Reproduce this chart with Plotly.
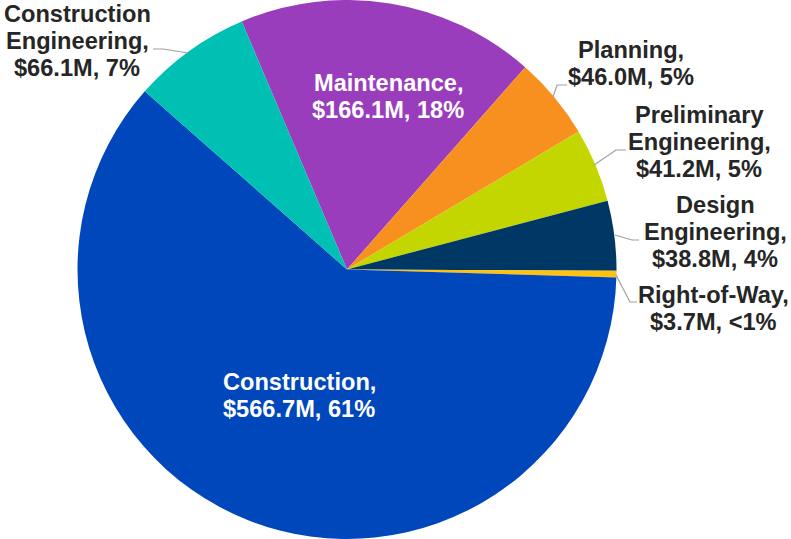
import plotly.graph_objects as go

# ---- data ----
categories = ["Maintenance", "Planning", "Preliminary Engineering", "Design Engineering",
              "Right-of-Way", "Construction", "Construction Engineering"]
values = [166.1, 46.0, 41.2, 38.8, 3.7, 566.7, 66.1]
pct_labels = ["18%", "5%", "5%", "4%", "<1%", "61%", "7%"]
label_lines = [
    ["Maintenance,"],
    ["Planning,"],
    ["Preliminary", "Engineering,"],
    ["Design", "Engineering,"],
    ["Right-of-Way,"],
    ["Construction,"],
    ["Construction", "Engineering,"],
]
colors = ["#9A3DBD", "#F7901E", "#C4D600", "#003865", "#FFC20E", "#0047BB", "#00BFB3"]

W, H = 791, 539

# label placement (pixel positions of first-line centre), text colour, leader lines
label_pos = [(388, 83.5), (631, 50), (699, 115), (715, 205), (713, 295), (299, 381.5), (77, 14)]
label_color = ["white", "#262626", "#262626", "#262626", "#262626", "white", "#262626"]
leaders = [
    None,
    [(553, 97), (557, 85), (567, 85)],
    [(594, 165), (616, 150), (626, 150)],
    [(615, 235), (632, 240), (639, 240)],
    [(616, 275), (630, 302), (637, 302)],
    None,
    [(188, 53), (163, 49), (153, 49)],
]
LINE_STEP = 27
FONT = "Liberation Sans, Arial, sans-serif"

fig = go.Figure(go.Pie(
    labels=categories,
    values=values,
    sort=False,
    direction="clockwise",
    rotation=-23,
    marker=dict(colors=colors, line=dict(width=0)),
    textinfo="none",
    hoverinfo="label+value+percent",
    showlegend=False,
    domain=dict(x=[(347 - 269.5) / W, (347 + 269.5) / W], y=[0, 1]),
))

def px(x, y):
    return x / W, 1 - y / H

annotations = []
shapes = []
for i, cat in enumerate(categories):
    lines = list(label_lines[i]) + [f"${values[i]:.1f}M, {pct_labels[i]}"]
    x0, y0 = label_pos[i]
    for k, ln in enumerate(lines):
        ax, ay = px(x0, y0 + k * LINE_STEP)
        annotations.append(dict(
            x=ax, y=ay, xref="paper", yref="paper", text=f"<b>{ln}</b>",
            showarrow=False, xanchor="center", yanchor="middle",
            font=dict(family=FONT, size=23.6, color=label_color[i]),
        ))
    if leaders[i]:
        pts = leaders[i]
        path = "M " + " L ".join(f"{px(x, y)[0]},{px(x, y)[1]}" for x, y in pts)
        shapes.append(dict(type="path", xref="paper", yref="paper", path=path,
                           line=dict(color="#A0A0A0", width=1.2)))

fig.update_layout(
    width=W, height=H,
    margin=dict(l=0, r=0, t=0, b=0),
    paper_bgcolor="white", plot_bgcolor="white",
    annotations=annotations, shapes=shapes,
)

fig.write_html("out.html", config={"displayModeBar": False},
               post_script="document.body.style.margin='0px';document.body.style.overflow='hidden';")
